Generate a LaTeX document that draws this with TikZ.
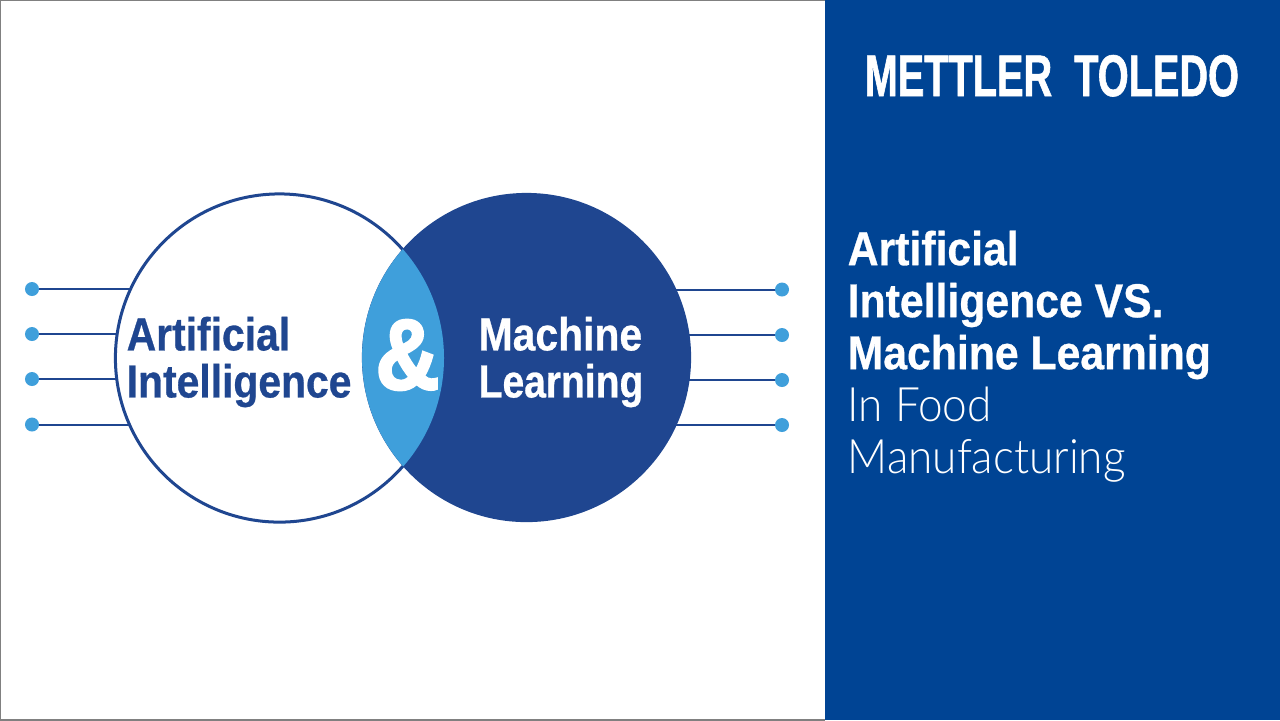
\documentclass[tikz,border=0pt]{standalone}
\usepackage{fontspec}
\usetikzlibrary{backgrounds}
\setmainfont{Liberation Sans}
\newfontfamily\boldlabel[FakeStretch=0.88,FakeBold=0.6]{Liberation Sans Bold}
\newfontfamily\boldnarrow[FakeStretch=0.84,FakeBold=0.6]{Liberation Sans Bold}
\newfontfamily\boldamp[FakeStretch=0.88,FakeBold=2.5]{Liberation Sans Bold}
\newfontfamily\boldtitle[FakeStretch=0.9,FakeBold=0.6]{Liberation Sans Bold}
\newfontfamily\boldlogo[FakeStretch=0.676,FakeBold=1]{Liberation Sans Bold}
\newfontfamily\lighttitle[FakeStretch=0.93]{Lato Light}
\definecolor{mtnavy}{HTML}{1F4690}
\definecolor{mtpanel}{HTML}{004494}
\definecolor{mtsky}{HTML}{3F9FDB}
\tikzset{
 tip/.style={circle,fill=mtsky,inner sep=0,minimum size=0.14cm},
 wire/.style={mtnavy,line width=0.02cm},
 venn/.style={circle,inner sep=0,line width=0.03cm,draw=mtnavy},
 label/.style={inner sep=0,anchor=west,align=left}
}
\begin{document}
\begin{tikzpicture}[x=0.01cm,y=-0.01cm]
\useasboundingbox(0,0)rectangle(1280,720);
\draw[gray,line width=0.02cm](825,0)--(0,0)--(0,720)--(825,720);
\fill[mtpanel](825,0)rectangle(1280,720);
%circles
\node[venn,fill=white,minimum size=3.28cm](ai)at(279.5,358){};
\node[venn,fill=mtnavy,minimum size=3.26cm](ml)at(526.5,357.5){};
\begin{scope}
\clip(279.5,358)circle(164.5);
\fill[mtsky](526.5,357.5)circle(164.5);
\end{scope}
%left wires
\node[tip](la)at(32,289){};
\node[tip](lb)at(32,334){};
\node[tip](lc)at(32,379){};
\node[tip](ld)at(32,424.5){};
%right wires
\node[tip](ra)at(782,289.5){};
\node[tip](rb)at(782,335){};
\node[tip](rc)at(782,380){};
\node[tip](rd)at(782,425){};
\begin{scope}[on background layer]
\draw[wire](la.center)--(la-|ai);
\draw[wire](lb.center)--(lb-|ai);
\draw[wire](lc.center)--(lc-|ai);
\draw[wire](ld.center)--(ld-|ai);
\draw[wire](ra.center)--(ra-|ml);
\draw[wire](rb.center)--(rb-|ml);
\draw[wire](rc.center)--(rc-|ml);
\draw[wire](rd.center)--(rd-|ml);
\end{scope}
%labels
\node[label,text=mtnavy,font=\boldlabel\fontsize{13.2pt}{13.37pt}\selectfont](ailabel)at(126,362){Artificial\\Intelligence};
\node[label,text=white,font=\boldlabel\fontsize{13.2pt}{13.37pt}\selectfont](mllabel)at(478,362){Machine\\{\boldnarrow Learning}};
\node[inner sep=0,text=white,font=\boldamp\fontsize{28.5pt}{30pt}\selectfont](amp)at(407.5,355){\&};
%panel
\node[inner sep=0,anchor=base west,text=white,font=\boldlogo\fontsize{16.7pt}{17pt}\selectfont](logo)at(864,96){METTLER\ \ TOLEDO};
\node[label,anchor=north west,text=white,font=\boldtitle\fontsize{13.5pt}{14.8pt}\selectfont](title)at(847,230){Artificial\\Intelligence VS.\\Machine Learning\\{\lighttitle In Food}\\{\lighttitle Manufacturing}};
\end{tikzpicture}
\end{document}
